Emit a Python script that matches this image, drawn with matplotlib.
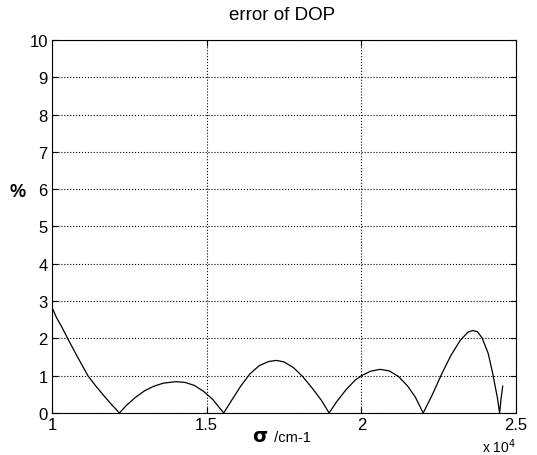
import matplotlib
matplotlib.use("Agg")
import matplotlib.pyplot as plt

plt.rcParams['font.family'] = ['Liberation Sans', 'DejaVu Sans']

# wavenumber (x 10^4 cm-1) and DOP error (%)
sigma = [1.000, 1.015, 1.032, 1.055, 1.080, 1.100, 1.116, 1.140, 1.165, 1.190, 1.218,
         1.240, 1.270, 1.300, 1.330, 1.360, 1.400, 1.430, 1.460, 1.490, 1.520, 1.555,
         1.580, 1.610, 1.640, 1.670, 1.700, 1.725, 1.750, 1.780, 1.810, 1.840, 1.870, 1.896,
         1.920, 1.950, 1.980, 2.000, 2.030, 2.060, 2.090, 2.120, 2.150, 2.175, 2.200,
         2.230, 2.260, 2.290, 2.320, 2.345, 2.360, 2.375, 2.390, 2.410, 2.425, 2.440, 2.447,
         2.452, 2.457]
err = [2.83, 2.55, 2.30, 1.93, 1.54, 1.24, 1.00, 0.74, 0.49, 0.25, 0.00,
       0.20, 0.42, 0.60, 0.72, 0.80, 0.84, 0.82, 0.74, 0.58, 0.36, 0.00,
       0.33, 0.72, 1.05, 1.27, 1.38, 1.41, 1.37, 1.22, 0.98, 0.68, 0.35, 0.00,
       0.30, 0.62, 0.88, 1.00, 1.12, 1.17, 1.13, 0.98, 0.72, 0.42, 0.00,
       0.50, 1.05, 1.55, 1.95, 2.17, 2.21, 2.18, 2.02, 1.60, 1.05, 0.40, 0.00,
       0.40, 0.72]

xticks = [1, 1.5, 2, 2.5]
xticklabels = ['1', '1.5', '2', '2.5']
yticks = list(range(0, 11))

fig = plt.figure(figsize=(5.37, 4.56), dpi=100)
ax = fig.add_axes([52/537, 1 - 414/456, 464/537, 373/456])

ax.plot(sigma, err, color='black', linewidth=0.9)

ax.set_xlim(1, 2.5)
ax.set_ylim(0, 10)
ax.set_xticks(xticks)
ax.set_xticklabels(xticklabels)
ax.set_yticks(yticks)
ax.tick_params(direction='in', top=True, right=True, labelsize=12, length=4, pad=3)
ax.grid(True, linestyle=':', color='black', linewidth=0.8)
for s in ax.spines.values():
    s.set_linewidth(0.8)

fig.text(0.525, 1 - 15/456, 'error of DOP', fontsize=13.5, ha='center', va='center')
ax.text(-0.075, 0.595, '%', transform=ax.transAxes, fontsize=13, fontweight='bold',
        ha='center', va='center')
fig.text(0.5, 1 - 438/456, r'$\mathbf{\sigma}$', fontsize=14, ha='right', va='center')
fig.text(0.503, 1 - 438/456, ' /cm-1', fontsize=10.5, ha='left', va='center')
fig.text(0.93, 1 - 447/456, r'x 10$^4$', fontsize=10, ha='center', va='center')

fig.savefig('out.png', dpi=100)
